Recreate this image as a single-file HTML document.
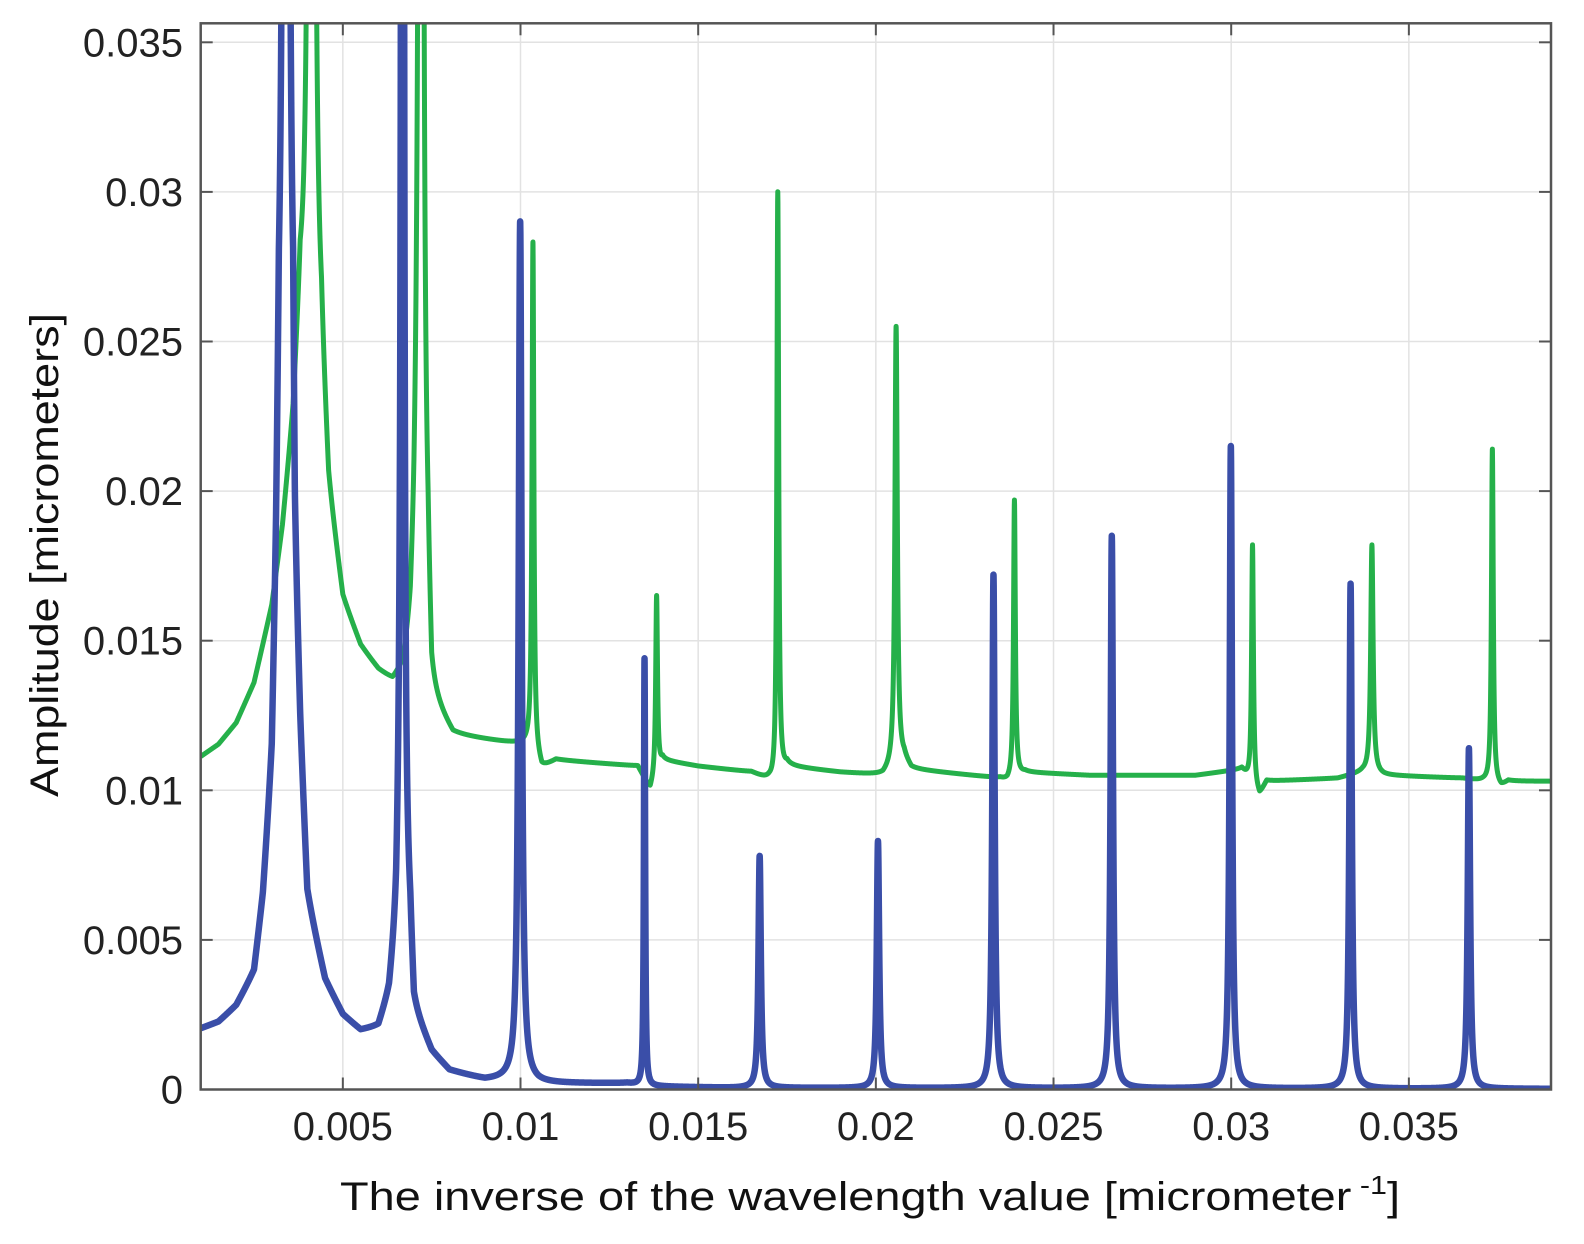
<!DOCTYPE html>
<html><head><meta charset="utf-8"><style>
html,body{margin:0;padding:0;background:#fff;}
svg{display:block;font-family:"Liberation Sans",sans-serif;}
</style></head><body>
<svg id="chart" width="1584" height="1244" viewBox="0 0 1584 1244">
<defs><clipPath id="plotclip"><rect x="200.7" y="23.3" width="1350.3" height="1066.2"/></clipPath></defs>
<rect x="200.7" y="23.3" width="1350.3" height="1066.2" fill="#fff"/>
<g id="grid"></g>
<g id="series" clip-path="url(#plotclip)"></g>
<rect x="200.7" y="23.3" width="1350.3" height="1066.2" fill="none" stroke="#555" stroke-width="2.5"/>
<g id="ticks"></g>
<text x="870" y="1210" font-size="40" text-anchor="middle" textLength="1060" lengthAdjust="spacingAndGlyphs" fill="#111">The inverse of the wavelength value  [micrometer<tspan dy="-16" font-size="26"> -1</tspan><tspan dy="16">]</tspan></text>
<text transform="translate(58,555) rotate(-90)" font-size="40" text-anchor="middle" textLength="484" lengthAdjust="spacingAndGlyphs" fill="#111">Amplitude [micrometers]</text>
</svg>
<script>
const xTicks=[0.005,0.01,0.015,0.02,0.025,0.03,0.035];
const xTickLabels=["0.005","0.01","0.015","0.02","0.025","0.03","0.035"];
const yTicks=[0,0.005,0.01,0.015,0.02,0.025,0.03,0.035];
const yTickLabels=["0","0.005","0.01","0.015","0.02","0.025","0.03","0.035"];
// blue series: smooth background (x,y) + spikes (center, peak, width)
const blueBaseX=[0.001,0.0015,0.002,0.0025,0.00275,0.003,0.00312,0.0032,0.0036,0.00365,0.0038,0.004,0.0045,0.005,0.0055,0.006,0.0063,0.0065,0.0066,0.0069,0.007,0.0075,0.008,0.009,0.0097,0.0105,0.013,0.0135,0.016,0.039];
const blueBaseY=[0.002,0.0022,0.0027,0.0037,0.006,0.010,0.016,0.022,0.022,0.016,0.011,0.006,0.0035,0.0024,0.0019,0.002,0.003,0.005,0.008,0.005,0.0025,0.0012,0.0006,0.0003,0.0003,0.0002,0.0002,0.0001,0.00005,0.00002];
const blueSpikeX=[0.0034,0.00668,0.00999,0.01349,0.01673,0.02006,0.02331,0.02664,0.02999,0.03336,0.03669];
const blueSpikePeak=[0.3,0.2,0.029,0.0144,0.0078,0.0083,0.0172,0.0185,0.0215,0.0169,0.0114];
const blueSpikeW=[0.00003,0.00002,0.00005,0.00002,0.00004,0.00004,0.00004,0.00004,0.00004,0.00004,0.00004];
// green series
const greenBaseX=[0.001,0.0015,0.002,0.0025,0.003,0.0033,0.0036,0.0038,0.0044,0.0046,0.005,0.0055,0.006,0.0064,0.0067,0.0069,0.007,0.0071,0.0074,0.0075,0.0081,0.0095,0.0103,0.0106,0.011,0.0133,0.01365,0.014,0.015,0.0165,0.017,0.01715,0.0175,0.019,0.0202,0.0208,0.021,0.0235,0.0237,0.0242,0.026,0.029,0.0303,0.0308,0.031,0.033,0.0337,0.0343,0.0365,0.0371,0.0376,0.0378,0.039];
const greenBaseY=[0.0111,0.0115,0.0122,0.0135,0.016,0.0185,0.022,0.026,0.024,0.0196,0.0162,0.0147,0.0139,0.0135,0.0138,0.015,0.017,0.02,0.016,0.0128,0.0118,0.0116,0.0115,0.0107,0.011,0.0108,0.0100,0.011,0.0108,0.0106,0.0103,0.0101,0.0108,0.0106,0.0105,0.011,0.0107,0.0104,0.0103,0.0106,0.0105,0.0105,0.0107,0.0098,0.0103,0.0104,0.0106,0.0105,0.0104,0.0103,0.0101,0.0103,0.0103];
const greenSpikeX=[0.00412,0.0072,0.01035,0.01383,0.01724,0.02057,0.0239,0.0306,0.03396,0.03735];
const greenSpikePeak=[0.3,0.2,0.0283,0.0165,0.030,0.0255,0.0197,0.0182,0.0182,0.0214];
const greenSpikeW=[0.00003,0.00003,0.00003,0.00003,0.00003,0.00004,0.00003,0.00003,0.00004,0.00003];

const NS="http://www.w3.org/2000/svg";
const L=200.7,R=1551,T=23.3,B=1089.5,X0=0.001,X1=0.039;
function sx(x){return L+(x-X0)/(X1-X0)*(R-L);}
function sy(y){return B-y*29920;}
function mk(tag,attrs,parent){const e=document.createElementNS(NS,tag);for(const k in attrs)e.setAttribute(k,attrs[k]);parent.appendChild(e);return e;}
const grid=document.getElementById('grid'),ticks=document.getElementById('ticks'),series=document.getElementById('series');
xTicks.forEach((v,i)=>{
  const gl=mk('line',{x1:sx(v),x2:sx(v),y1:T,y2:B,stroke:'#e2e2e2','stroke-width':1.5},grid);
  
  
  const t=mk('line',{x1:sx(v),x2:sx(v),y1:B,y2:B-12,stroke:'#555','stroke-width':2},ticks);
  
  
  const t2=mk('line',{x1:sx(v),x2:sx(v),y1:T,y2:T+12,stroke:'#555','stroke-width':2},ticks);
  
  
  const lb=mk('text',{x:sx(v),y:1140,'font-size':40,'text-anchor':'middle',fill:'#222'},ticks);
  lb.textContent=xTickLabels[i];
  
  
});
yTicks.forEach((v,i)=>{
  const gl=mk('line',{x1:L,x2:R,y1:sy(v),y2:sy(v),stroke:'#e2e2e2','stroke-width':1.5},grid);
  
  
  const t=mk('line',{x1:L,x2:L+12,y1:sy(v),y2:sy(v),stroke:'#555','stroke-width':2},ticks);
  
  
  const t2=mk('line',{x1:R,x2:R-12,y1:sy(v),y2:sy(v),stroke:'#555','stroke-width':2},ticks);
  
  
  const lb=mk('text',{x:183,y:sy(v)+14,'font-size':40,'text-anchor':'end',fill:'#222'},ticks);
  lb.textContent=yTickLabels[i];
  
  
});
function interp(xs,ys,x){
  if(x<=xs[0])return ys[0];
  for(let i=1;i<xs.length;i++){if(x<=xs[i]){const t=(x-xs[i-1])/(xs[i]-xs[i-1]);return ys[i-1]+t*(ys[i]-ys[i-1]);}}
  return ys[ys.length-1];
}
function buildPath(bx,by,cx,pk,w){
  const amps=cx.map((c,i)=>pk[i]-interp(bx,by,c));
  const xs=[];
  for(let x=X0;x<=X1+1e-12;x+=0.000004)xs.push(x);
  cx.forEach(c=>xs.push(c));
  xs.sort((a,b)=>a-b);
  let d='';
  xs.forEach((x,j)=>{
    let y=interp(bx,by,x);
    cx.forEach((c,i)=>{const u=(x-c)/w[i];y+=amps[i]/(1+u*u);});
    const py=Math.max(-50,sy(y));
    d+=(j?'L':'M')+sx(x).toFixed(2)+' '+py.toFixed(2);
  });
  return d;
}
const g=mk('path',{d:buildPath(greenBaseX,greenBaseY,greenSpikeX,greenSpikePeak,greenSpikeW),fill:'none',stroke:'#25b04a','stroke-width':5,'stroke-linejoin':'round'},series);


const b=mk('path',{d:buildPath(blueBaseX,blueBaseY,blueSpikeX,blueSpikePeak,blueSpikeW),fill:'none',stroke:'#3a4ea8','stroke-width':6.5,'stroke-linejoin':'round'},series);


</script>
</body></html>
